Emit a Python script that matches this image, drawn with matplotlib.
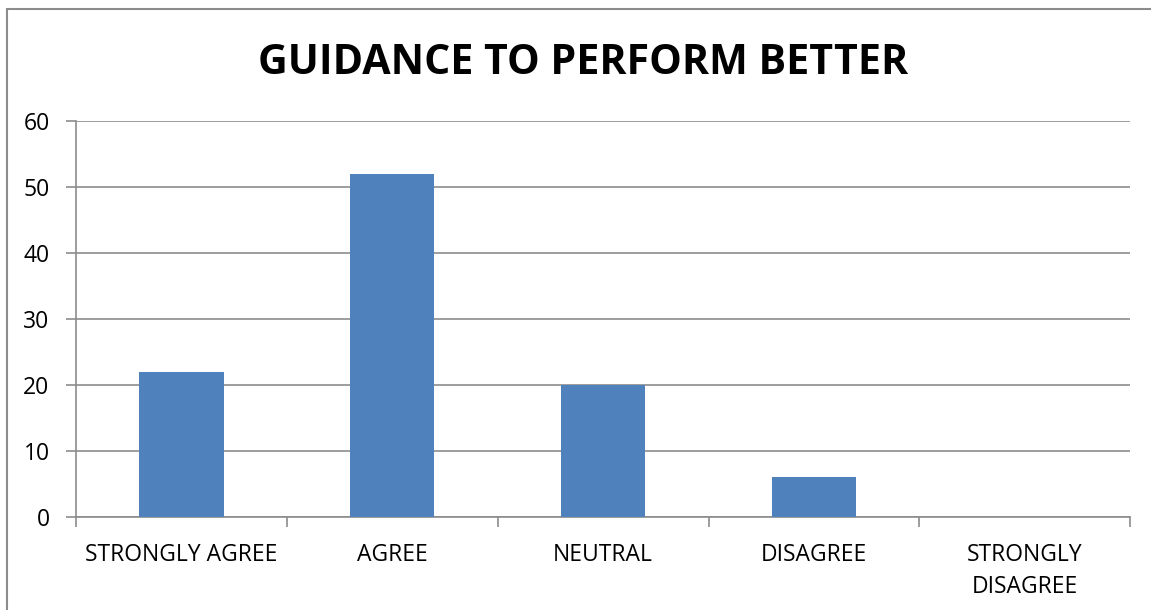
import matplotlib.pyplot as plt
from matplotlib.patches import Rectangle

categories = ["STRONGLY AGREE", "AGREE", "NEUTRAL", "DISAGREE", "STRONGLY\nDISAGREE"]
values = [22, 52, 20, 6, 0]
y_ticks = [0, 10, 20, 30, 40, 50, 60]

plt.rcParams['font.family'] = ['Open Sans', 'DejaVu Sans']

fig = plt.figure(figsize=(11.51, 6.10), dpi=100)
ax = fig.add_axes([0.066, 0.1525, 0.916, 0.649])

# chart border (left and top visible in the reference)
fig.patches.append(Rectangle((7 / 1151, -0.1), 1.2, 1 - 9 / 610 + 0.1,
                             transform=fig.transFigure, fill=False,
                             edgecolor='#8c8c8c', linewidth=1.5))

x = list(range(len(categories)))
ax.bar(x, values, width=0.4, color='#4F81BD', zorder=3)

ax.set_xlim(-0.5, len(categories) - 0.5)
ax.set_ylim(0, 60)
ax.set_yticks(y_ticks)
ax.grid(axis='y', color='#8c8c8c', linewidth=1.2, zorder=0)

ax.set_xticks(x)
ax.set_xticklabels(categories, fontsize=16.5, linespacing=1.4)
ax.set_xticks([i - 0.5 for i in range(len(categories) + 1)], minor=True)
ax.tick_params(axis='x', which='major', length=0, pad=19)
ax.tick_params(axis='x', which='minor', length=7, color='#8c8c8c', width=1.2)
ax.tick_params(axis='y', length=7, color='#8c8c8c', width=1.2, labelsize=16.5, pad=12)

for side in ['top', 'right']:
    ax.spines[side].set_visible(False)
for side in ['left', 'bottom']:
    ax.spines[side].set_color('#8c8c8c')
    ax.spines[side].set_linewidth(1.2)

fig.text(0.507, 0.896, "GUIDANCE TO PERFORM BETTER", ha='center', va='center',
         fontsize=29.6, fontweight='bold')

fig.savefig('out.png', dpi=100)
